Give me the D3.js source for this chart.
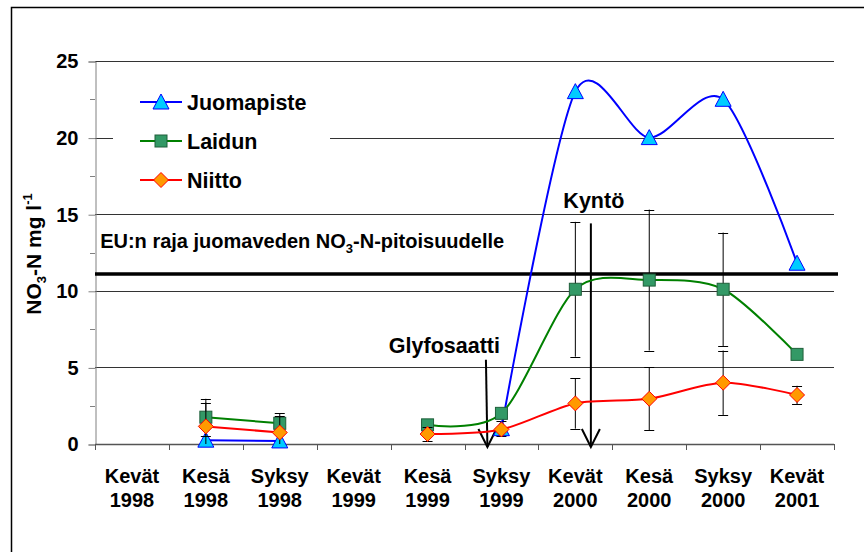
<!DOCTYPE html>
<meta charset="utf-8">
<script src="https://d3js.org/d3.v7.min.js"></script>
<style>
  body { margin: 0; background: #fff; }
  text { font-family: "Liberation Sans", Arial, sans-serif; font-weight: bold; fill: #000; }
</style>
<div id="chart"></div>
<script>

// categories (season / year)
var seasons = ["Kevät", "Kesä", "Syksy", "Kevät", "Kesä", "Syksy", "Kevät", "Kesä", "Syksy", "Kevät"];
var years   = ["1998", "1998", "1998", "1999", "1999", "1999", "2000", "2000", "2000", "2001"];

// NO3-N mg/l, null = no sample
var juomapiste    = [null, 0.25, 0.2, null, null, 1.0, 23.0, 20.0, 22.5, 11.8];
var juomapisteErr = [null, null, null, null, null, 0.5, null, null, null, null];
var laidun        = [null, 1.75, 1.35, null, 1.25, 2.0, 10.1, 10.7, 10.1, 5.85];
var laidunErr     = [null, 1.2, 0.65, null, null, null, 4.4, 4.6, 3.7, null];
var niitto        = [null, 1.15, 0.75, null, 0.65, 0.95, 2.65, 2.95, 4.0, 3.2];
var niittoErr     = [null, 1.55, 1.05, null, 0.45, null, 1.65, 2.05, 2.1, 0.6];

var yTicks = [0, 5, 10, 15, 20, 25];
var euLimit = 11.1;

var width = 864, height = 552;
var margin = {top: 61, right: 30, bottom: 108, left: 95};

var svg = d3.select("#chart")
  .append("svg")
    .attr("width", width)
    .attr("height", height);

// outer frame (only top and left edge inside the picture)
svg.append("rect")
  .attr("x", 11.5).attr("y", 7.5)
  .attr("width", 1000).attr("height", 1000)
  .attr("fill", "none").attr("stroke", "#000").attr("stroke-width", 1.5);

var idx = d3.range(seasons.length);

var x = d3.scaleBand()
  .domain(idx)
  .range([margin.left, width - margin.right]);

// position at a (fractional) category index
function xAt(i) { return x(0) + x.bandwidth() * (i + 0.5); }

var y = d3.scaleLinear()
  .domain([0, 25])
  .range([height - margin.bottom, margin.top]);

// gridlines
svg.append("g")
  .selectAll("line")
  .data(yTicks.slice(1))
  .enter()
  .append("line")
    .attr("x1", margin.left).attr("x2", width - margin.right)
    .attr("y1", function(d){ return Math.round(y(d)) + 0.5 })
    .attr("y2", function(d){ return Math.round(y(d)) + 0.5 })
    .attr("stroke", "#333").attr("stroke-width", 1);

// y axis
var yAxis = svg.append("g")
  .attr("transform", "translate(" + (margin.left + 0.5) + ",0.5)")
  .call(d3.axisLeft(y).tickValues(yTicks).tickSize(7).tickPadding(10));
yAxis.select(".domain").attr("stroke", "#808080");
yAxis.selectAll(".tick line").attr("stroke", "#808080");
yAxis.selectAll("text")
  .style("font-size", "20px")
  .style("font-family", "'Liberation Sans', Arial, sans-serif")
  .style("font-weight", "bold")
  .attr("fill", "#000");

// minor ticks
svg.append("g")
  .selectAll("line")
  .data([2.5, 7.5, 12.5, 17.5, 22.5])
  .enter()
  .append("line")
    .attr("x1", margin.left - 5).attr("x2", margin.left)
    .attr("y1", function(d){ return Math.round(y(d)) + 0.5 })
    .attr("y2", function(d){ return Math.round(y(d)) + 0.5 })
    .attr("stroke", "#808080");

// x axis line + ticks at category borders
var x0 = y(0);
svg.append("line")
  .attr("x1", margin.left).attr("x2", width - margin.right)
  .attr("y1", Math.round(x0) + 0.5).attr("y2", Math.round(x0) + 0.5)
  .attr("stroke", "#555").attr("stroke-width", 1.5);
svg.append("g")
  .selectAll("line")
  .data(d3.range(seasons.length + 1))
  .enter()
  .append("line")
    .attr("x1", function(d){ return Math.round(x(0) + d * x.bandwidth()) + 0.5 })
    .attr("x2", function(d){ return Math.round(x(0) + d * x.bandwidth()) + 0.5 })
    .attr("y1", x0).attr("y2", x0 + 6)
    .attr("stroke", "#555");

// x labels, two lines
var xl = svg.append("g")
  .selectAll("text")
  .data(idx)
  .enter()
  .append("text")
    .attr("text-anchor", "middle")
    .style("font-size", "20px");
xl.append("tspan")
  .attr("x", function(d){ return xAt(d) })
  .attr("y", x0 + 39)
  .text(function(d){ return seasons[d] });
xl.append("tspan")
  .attr("x", function(d){ return xAt(d) })
  .attr("y", x0 + 63)
  .text(function(d){ return years[d] });

// y axis title
var yt = svg.append("text")
  .attr("transform", "translate(41," + y(12.4) + ")rotate(-90)")
  .attr("text-anchor", "middle")
  .style("font-size", "21px");
yt.append("tspan").text("NO");
yt.append("tspan").attr("dy", 5).style("font-size", "13px").text("3");
yt.append("tspan").attr("dy", -5).text("-N mg l");
yt.append("tspan").attr("dy", -9).style("font-size", "13px").text("-1");

// EU limit
svg.append("line")
  .attr("x1", margin.left).attr("x2", width - margin.right + 4)
  .attr("y1", y(euLimit)).attr("y2", y(euLimit))
  .attr("stroke", "#000").attr("stroke-width", 3.5);

var eu = svg.append("text")
  .attr("x", xAt(-0.43))
  .attr("y", y(12.8))
  .style("font-size", "20px");
eu.append("tspan").text("EU:n raja juomaveden NO");
eu.append("tspan").attr("dy", 5).style("font-size", "13px").text("3");
eu.append("tspan").attr("dy", -5).text("-N-pitoisuudelle");

// annotation arrows (Glyfosaatti, Kyntö)
var arrows = [
  {label: "Glyfosaatti", x1: 4.79, y1: 5.5, x2: 4.81, y2: -0.2, lx: 4.98, ly: 5.94, anchor: "end"},
  {label: "Kyntö", x1: 6.21, y1: 14.4, x2: 6.21, y2: -0.2, lx: 6.25, ly: 15.4, anchor: "middle"}
];
arrows.forEach(function(a) {
  var ax1 = xAt(a.x1), ay1 = y(a.y1), ax2 = xAt(a.x2), ay2 = y(a.y2);
  svg.append("line")
    .attr("x1", ax1).attr("y1", ay1).attr("x2", ax2).attr("y2", ay2)
    .attr("stroke", "#000").attr("stroke-width", 2);
  svg.append("path")
    .attr("d", "M" + (ax2 - 9) + "," + (ay2 - 18) + "L" + ax2 + "," + ay2 + "L" + (ax2 + 9) + "," + (ay2 - 18))
    .attr("fill", "none").attr("stroke", "#000").attr("stroke-width", 2);
  svg.append("text")
    .attr("x", xAt(a.lx)).attr("y", y(a.ly))
    .attr("text-anchor", a.anchor)
    .style("font-size", "21.5px")
    .text(a.label);
});

// series
var series = [
  {name: "Juomapiste", values: juomapiste, err: juomapisteErr, line: "#0000ff", fill: "#00ccff", stroke: "#0000ff", shape: "triangle"},
  {name: "Laidun", values: laidun, err: laidunErr, line: "#008000", fill: "#339966", stroke: "#1f5f3a", shape: "square"},
  {name: "Niitto", values: niitto, err: niittoErr, line: "#ff0000", fill: "#ff9900", stroke: "#ff0000", shape: "diamond"}
];

function marker(g, s, cx, cy) {
  if (s.shape == "triangle") {
    g.append("path").attr("d", "M" + cx + "," + (cy - 8) + "L" + (cx + 8) + "," + (cy + 7) + "L" + (cx - 8) + "," + (cy + 7) + "Z");
  } else if (s.shape == "square") {
    g.append("rect").attr("x", cx - 6).attr("y", cy - 6).attr("width", 12).attr("height", 12);
  } else {
    g.append("path").attr("d", "M" + cx + "," + (cy - 7.5) + "L" + (cx + 7.5) + "," + cy + "L" + cx + "," + (cy + 7.5) + "L" + (cx - 7.5) + "," + cy + "Z");
  }
  g.selectAll("*").attr("fill", s.fill).attr("stroke", s.stroke).attr("stroke-width", 1);
}

var line = d3.line()
  .defined(function(d){ return d != null })
  .x(function(d, i){ return xAt(i) })
  .y(function(d){ return y(d) })
  .curve(d3.curveCardinal.tension(0.15));

series.forEach(function(s) {
  svg.append("path")
    .attr("d", line(s.values))
    .attr("fill", "none")
    .attr("stroke", s.line)
    .attr("stroke-width", 2);
});

series.forEach(function(s) {
  // error bars
  s.values.forEach(function(v, i) {
    var e = s.err[i];
    if (v == null || e == null) return;
    var cx = xAt(i);
    var hi = v + e, lo = Math.max(0, v - e);
    svg.append("line").attr("x1", cx).attr("x2", cx).attr("y1", y(hi)).attr("y2", y(lo))
      .attr("stroke", "#000").attr("stroke-width", 1);
    svg.append("line").attr("x1", cx - 5).attr("x2", cx + 5).attr("y1", Math.round(y(hi)) + 0.5).attr("y2", Math.round(y(hi)) + 0.5)
      .attr("stroke", "#000");
    if (v - e > 0) {
      svg.append("line").attr("x1", cx - 5).attr("x2", cx + 5).attr("y1", Math.round(y(lo)) + 0.5).attr("y2", Math.round(y(lo)) + 0.5)
        .attr("stroke", "#000");
    }
  });
  s.values.forEach(function(v, i) {
    if (v == null) return;
    marker(svg.append("g"), s, xAt(i), y(v));
  });
});

// legend
var legend = svg.append("g");
legend.append("rect")
  .attr("x", 113).attr("y", 72).attr("width", 217).attr("height", 128)
  .attr("fill", "#fff");
series.forEach(function(s, i) {
  var ly = 102 + i * 39;
  legend.append("line")
    .attr("x1", 140).attr("x2", 182).attr("y1", ly).attr("y2", ly)
    .attr("stroke", s.line).attr("stroke-width", 2);
  marker(legend.append("g"), s, 161, ly);
  legend.append("text")
    .attr("x", 187).attr("y", ly + 7.5)
    .style("font-size", "21.5px")
    .text(s.name);
});

</script>
